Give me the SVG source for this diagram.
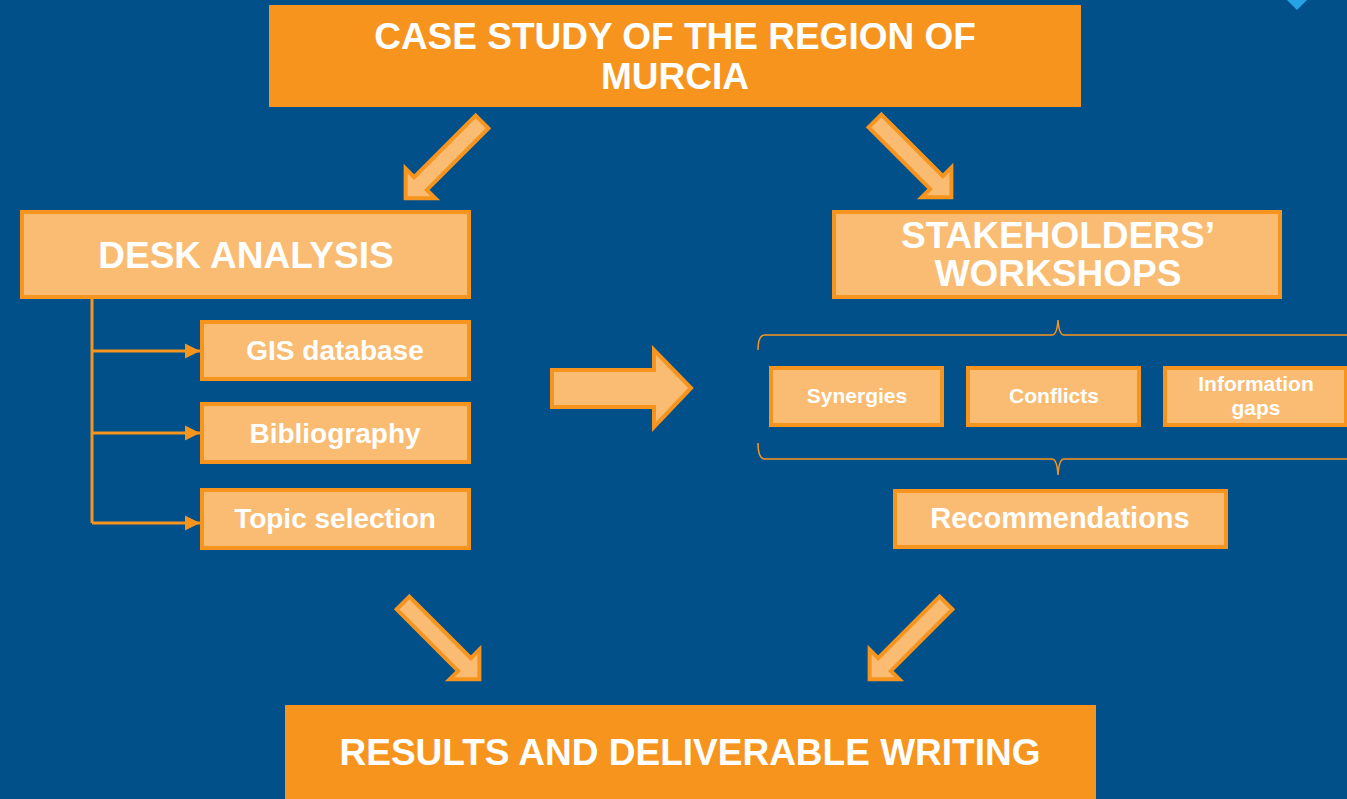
<svg xmlns="http://www.w3.org/2000/svg" width="1347" height="799" viewBox="0 0 1347 799">
<defs>
<style>
.bg{fill:#01508A}
.dark{fill:#F7941D}
.light{fill:#F9BC72;stroke:#F7941D;stroke-width:4}
.t{font-family:"Liberation Sans",Arial,sans-serif;font-weight:bold;fill:#FFFFFF;text-anchor:middle}
.line{stroke:#F7941D;stroke-width:3;fill:none}
.brace{stroke:#F7941D;stroke-width:1.5;fill:none}
.blk{fill:#F9BC72;stroke:#F7941D;stroke-width:4;stroke-linejoin:miter}
</style>
<marker id="ah" viewBox="0 0 10 10" refX="10" refY="5" markerWidth="5" markerHeight="5.5" orient="auto" markerUnits="strokeWidth">
<path d="M0,0 L10,5 L0,10 Z" fill="#F7941D"/>
</marker>
<path id="diag" d="M0,-9 L87,-9 L87,-21 L108,0 L87,21 L87,9 L0,9 Z"/>
</defs>
<rect class="bg" x="0" y="0" width="1347" height="799"/>
<polygon points="1287,0 1307,0 1297,10" fill="#27A2E4"/>

<g id="connectors">
<line class="line" x1="92" y1="299" x2="92" y2="523"/>
<line class="line" x1="92" y1="351" x2="200" y2="351" marker-end="url(#ah)"/>
<line class="line" x1="92" y1="433" x2="200" y2="433" marker-end="url(#ah)"/>
<line class="line" x1="92" y1="523" x2="200" y2="523" marker-end="url(#ah)"/>
<use href="#diag" class="blk" transform="translate(482,122) rotate(135)"/>
<use href="#diag" class="blk" transform="translate(875,121) rotate(45)"/>
<use href="#diag" class="blk" transform="translate(403,603) rotate(45)"/>
<use href="#diag" class="blk" transform="translate(946,603) rotate(135)"/>
<path class="blk" d="M552,370 L654,370 L654,350 L691,388 L654,427 L654,407 L552,407 Z"/>
<path class="brace" d="M758,350 Q758,335 765,335 L1052,335 Q1057,335 1058,320 Q1059,335 1064,335 L1347,335"/>
<path class="brace" d="M758,443 Q758,459 765,459 L1052,459 Q1057,459 1058,475 Q1059,459 1064,459 L1347,459"/>
</g>

<g id="case-study">
<rect class="dark" x="269" y="5" width="812" height="102"/>
<text class="t" x="675" y="49" font-size="37">CASE STUDY OF THE REGION OF</text>
<text class="t" x="675" y="89" font-size="37">MURCIA</text>
</g>

<g id="desk-analysis">
<rect class="light" x="22" y="212" width="447" height="85"/>
<text class="t" x="246" y="268" font-size="37">DESK ANALYSIS</text>
</g>

<g id="stakeholders">
<rect class="light" x="834" y="212" width="446" height="85"/>
<text class="t" x="1058" y="248" font-size="37">STAKEHOLDERS’</text>
<text class="t" x="1058" y="286" font-size="37">WORKSHOPS</text>
</g>

<g id="gis">
<rect class="light" x="202" y="322" width="267" height="57"/>
<text class="t" x="335" y="360" font-size="28">GIS database</text>
</g>

<g id="bibliography">
<rect class="light" x="202" y="404" width="267" height="58"/>
<text class="t" x="335" y="443" font-size="28">Bibliography</text>
</g>

<g id="topic">
<rect class="light" x="202" y="490" width="267" height="58"/>
<text class="t" x="335" y="528" font-size="28">Topic selection</text>
</g>

<g id="synergies">
<rect class="light" x="771" y="368" width="171" height="57"/>
<text class="t" x="857" y="403" font-size="21">Synergies</text>
</g>

<g id="conflicts">
<rect class="light" x="968" y="368" width="171" height="57"/>
<text class="t" x="1054" y="403" font-size="21">Conflicts</text>
</g>

<g id="information-gaps">
<rect class="light" x="1165" y="368" width="181" height="57"/>
<text class="t" x="1256" y="391" font-size="21">Information</text>
<text class="t" x="1256" y="415" font-size="21">gaps</text>
</g>

<g id="recommendations">
<rect class="light" x="895" y="491" width="331" height="56"/>
<text class="t" x="1060" y="528" font-size="29">Recommendations</text>
</g>

<g id="results">
<rect class="dark" x="285" y="705" width="811" height="94"/>
<text class="t" x="690" y="765" font-size="37">RESULTS AND DELIVERABLE WRITING</text>
</g>
</svg>
